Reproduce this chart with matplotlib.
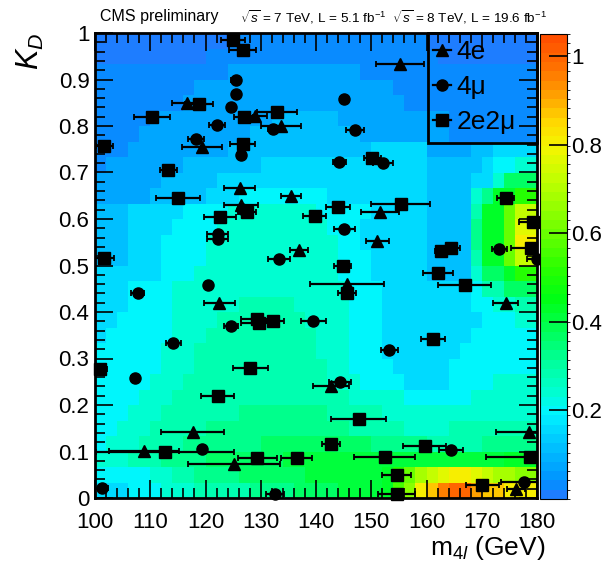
import numpy as np
import matplotlib.pyplot as plt
from matplotlib.colors import LinearSegmentedColormap, BoundaryNorm
from matplotlib.lines import Line2D
from matplotlib.patches import Rectangle

plt.rcParams['font.family'] = ['Liberation Sans', 'DejaVu Sans']
plt.rcParams['mathtext.fontset'] = 'custom'
plt.rcParams['mathtext.rm'] = 'Liberation Sans'
plt.rcParams['mathtext.it'] = 'Liberation Sans:italic'

# signal probability map, one string per K_D row (top row first), one letter per 2 GeV bin
# letter a..z -> 0.00 .. 1.00 in steps of 0.04
kd_map = [
    "aaaaaaaaaaaa" + "bbbbbbbbbbbbbbbbbb" + "aaaaaaaaaa",
    "aaaaaaaaaa" + "bbbbbbbbbbbbbbbbbbbbb" + "aaaaaaaaa",
    "bbbbbbbbbbbb" + "cccccccccccc" + "bbbbbbbbbbbbbbbb",
    "bbbbbbbbb" + "cccccccccccccccccc" + "bbbbbbbbbbbbb",
    "bbbbbbbb" + "cccccccccccccccccccc" + "bbbbbbbbbbbb",
    "bbbbb" + "ccccccccccc" + "dddddd" + "cccccccccc" + "bbbbbbbb",
    "bbbb" + "cccccccccc" + "dddddddddd" + "cccccccc" + "bbbbbbbb",
    "bbb" + "ccccccccc" + "ddddddddddddd" + "eeeee" + "cccc" + "ddeeee",
    "b" + "ccccccc" + "ddddddd" + "eeeeeeee" + "eeeeeee" + "ddddd" + "effgg",
    "cccccc" + "ddddd" + "eeeeeeeeeeeeeee" + "eeee" + "dddd" + "eegjjj",
    "ccccc" + "ddddd" + "eee" + "ffffffff" + "eeeee" + "eeee" + "dddd" + "gillnn",
    "ddd" + "eeeee" + "ffff" + "gggggggg" + "fffff" + "eeeee" + "dddd" + "hllpss",
    "ddd" + "eeee" + "ffff" + "gggggggggg" + "fff" + "eeeeee" + "dddd" + "illptt",
    "ddd" + "eee" + "ffff" + "gggggggggggg" + "ff" + "eeeeee" + "dddd" + "illpuu",
    "ddd" + "eee" + "ffff" + "gggggggggggg" + "fff" + "eeeee" + "dddd" + "hllpss",
    "eee" + "eee" + "fff" + "ggggggggggggg" + "fff" + "eeeee" + "dddd" + "gjjlnn",
    "eee" + "ffff" + "gggggggggggggggg" + "fff" + "eeee" + "eeee" + "fhhjjj",
    "eee" + "ffff" + "gggggghhhhhggggg" + "fff" + "eeee" + "eeee" + "ffgghh",
    "ee" + "fffff" + "gggg" + "hhhhhhhh" + "gggg" + "fff" + "eeeeeeee" + "efffgg",
    "e" + "ffffff" + "ggg" + "hhhhhhhhhh" + "ggg" + "fff" + "eeeeeeee" + "ffffff",
    "ffffff" + "ggg" + "hhhhhhhhhhh" + "ggg" + "fff" + "eeeeeee" + "fffffff",
    "ffffff" + "ggg" + "hhhhhhhhhhhh" + "gg" + "ffff" + "eeeee" + "ffffffff",
    "fffff" + "ggg" + "hhhhhhhhhhhhh" + "ggg" + "ffff" + "eeee" + "ffffgggg",
    "ffff" + "ggg" + "hhhhhhhhhhhhhhhh" + "ggggg" + "ffffff" + "gggggg",
    "fff" + "ggg" + "hhhhhhh" + "iiiiiiii" + "hhhhh" + "gggggg" + "gggggggg",
    "ff" + "ggg" + "hhhhh" + "iiiiiiiiiiiii" + "hhhhh" + "gggghhhhhhhh",
    "f" + "ggg" + "hhhh" + "iiiiiii" + "jjjjjjjjjj" + "iiiii" + "hhhhhiiiii",
    "ggg" + "hhh" + "iiii" + "jjjjj" + "jjkkkkkkkk" + "kkkkk" + "kkkkk" + "kklll",
    "fffff" + "gg" + "hh" + "iiii" + "jjjjjj" + "kkkkkk" + "klnprstuutsrrqq",
    "eeefff" + "gggh" + "hhhhiiiijj" + "jjkkk" + "kloqu" + "wyzzxwwuuu",
]
m4l_edges = np.arange(100, 182, 2)
kd_edges = np.linspace(0, 1, 31)

# 4e candidates: mass, K_D, mass uncertainty
m_4e = [116.7, 129.0, 133.7, 119.4, 126.2, 135.5, 126.4, 136.9, 155.2, 151.6,
        151.1, 122.5, 145.6, 174.3, 142.7, 117.7, 108.9, 125.2, 178.6, 176.2]
kd_4e = [0.850, 0.822, 0.801, 0.755, 0.666, 0.650, 0.630, 0.533, 0.933, 0.614,
         0.553, 0.420, 0.461, 0.420, 0.241, 0.142, 0.101, 0.074, 0.141, 0.019]
err_4e = [2.7, 2.2, 3.6, 3.6, 2.8, 1.8, 3.1, 1.6, 4.3, 3.5,
          2.1, 2.8, 6.7, 2.2, 3.3, 5.7, 6.3, 8.3, 6.1, 1.7]

# 4mu candidates
m_4mu = [125.5, 125.6, 124.6, 122.1, 132.2, 118.3, 126.5, 126.6, 122.2, 122.2,
         133.3, 145.0, 147.1, 144.2, 152.2, 145.1, 173.2, 180.0, 107.7, 120.5,
         124.6, 114.2, 107.2, 119.3, 101.2, 132.6, 139.5, 153.3, 144.3, 164.4, 177.6]
kd_4mu = [0.900, 0.869, 0.840, 0.803, 0.794, 0.772, 0.737, 0.622, 0.568, 0.558,
          0.513, 0.859, 0.791, 0.723, 0.720, 0.579, 0.536, 0.514, 0.441, 0.457,
          0.370, 0.333, 0.259, 0.105, 0.021, 0.009, 0.380, 0.318, 0.250, 0.104, 0.034]
err_4mu = [0.9, 0.5, 0.6, 1.4, 0.8, 1.4, 0.6, 0.8, 1.9, 1.9,
           2.0, 0.6, 1.6, 1.2, 1.8, 1.9, 1.3, 1.8, 1.1, 0.6,
           1.2, 1.3, 0.6, 0.6, 1.2, 1.6, 2.3, 1.5, 2.0, 2.2, 4.2]

# 2e2mu candidates
m_2e2mu = [125.0, 126.7, 118.8, 110.3, 126.9, 132.9, 101.7, 126.7, 113.3, 115.0,
           127.5, 122.7, 101.6, 150.2, 155.3, 144.0, 139.8, 162.7, 164.5, 174.3,
           179.2, 178.9, 144.8, 145.6, 162.1, 166.9, 161.2, 129.4, 129.7, 132.3,
           100.9, 128.1, 122.2, 112.7, 129.4, 136.5, 147.7, 142.7, 159.7, 178.7,
           152.4, 154.6, 170.1, 154.6]
kd_2e2mu = [0.986, 0.963, 0.848, 0.820, 0.819, 0.831, 0.756, 0.761, 0.705, 0.645,
            0.614, 0.604, 0.516, 0.732, 0.633, 0.625, 0.607, 0.531, 0.538, 0.645,
            0.593, 0.538, 0.499, 0.441, 0.483, 0.457, 0.343, 0.384, 0.377, 0.380,
            0.277, 0.280, 0.220, 0.099, 0.085, 0.087, 0.170, 0.116, 0.111, 0.089,
            0.089, 0.049, 0.029, 0.008]
err_2e2mu = [2.2, 2.5, 2.5, 3.3, 1.7, 3.6, 1.5, 2.3, 1.6, 4.0,
             1.7, 2.9, 1.8, 1.5, 5.3, 2.2, 2.1, 1.2, 1.5, 1.6,
             2.4, 3.6, 1.5, 1.7, 2.7, 4.8, 2.2, 2.9, 3.3, 1.9,
             1.3, 3.2, 3.0, 12.5, 3.5, 2.8, 5.0, 1.7, 3.9, 8.0,
             5.6, 2.6, 3.0, 3.3]

z = np.array([[(ord(ch) - ord('a')) * 0.04 for ch in row.ljust(40, row[-1])[:40]]
              for row in kd_map])[::-1]

stops = [(0.00, (30, 125, 255)), (0.03, (0, 145, 255)), (0.08, (0, 175, 255)),
         (0.13, (0, 205, 255)), (0.19, (0, 245, 255)), (0.24, (0, 255, 205)),
         (0.30, (0, 255, 160)), (0.37, (0, 255, 95)), (0.45, (0, 255, 20)),
         (0.52, (40, 255, 0)), (0.62, (120, 255, 0)), (0.72, (190, 255, 0)),
         (0.80, (245, 245, 0)), (0.86, (255, 215, 0)), (0.92, (255, 160, 0)),
         (0.98, (255, 115, 0)), (1.05, (255, 80, 0))]
cmap = LinearSegmentedColormap.from_list(
    'kd', [(v / 1.05, tuple(c / 255 for c in rgb)) for v, rgb in stops]).resampled(50)
levels = np.linspace(0, 1.05, 51)
norm = BoundaryNorm(levels, 50)

fig = plt.figure(figsize=(6.13, 5.63), dpi=100)
ax = fig.add_axes([95 / 613, 65 / 563, 442 / 613, 465 / 563])
cax = fig.add_axes([540 / 613, 64 / 563, 27 / 613, 465 / 563])

mesh = ax.pcolormesh(m4l_edges, kd_edges, z, cmap=cmap, norm=norm)

ebar = dict(fmt='none', ecolor='black', elinewidth=1.6, capsize=2.5, capthick=1.3)
ax.errorbar(m_4e, kd_4e, xerr=err_4e, **ebar)
ax.errorbar(m_4mu, kd_4mu, xerr=err_4mu, **ebar)
ax.errorbar(m_2e2mu, kd_2e2mu, xerr=err_2e2mu, **ebar)
ax.plot(m_4e, kd_4e, '^', color='black', ms=8.5, clip_on=False)
ax.plot(m_4mu, kd_4mu, 'o', color='black', ms=8, clip_on=False)
ax.plot(m_2e2mu, kd_2e2mu, 's', color='black', ms=8, clip_on=False)

ax.set_xlim(100, 180)
ax.set_ylim(0, 1)
ax.set_xticks(np.arange(100, 181, 10))
ax.set_xticks(np.arange(100, 181, 2), minor=True)
ax.set_yticks(np.arange(0, 1.01, 0.1))
ax.set_yticks(np.arange(0, 1.001, 0.02), minor=True)
ax.set_yticklabels(['0'] + ['%.1f' % v for v in np.arange(0.1, 0.95, 0.1)] + ['1'])
ax.tick_params(which='both', direction='in', top=True, right=True, labelsize=16, width=1.2, pad=4)
ax.tick_params(axis='x', which='both', pad=10)
ax.tick_params(which='major', length=13)
ax.tick_params(which='minor', length=7)
for s in ax.spines.values():
    s.set_linewidth(2)

ax.set_xlabel(r'm$_{4\mathit{l}}$ (GeV)', fontsize=19, ha='right', va='center')
ax.xaxis.set_label_coords((545 - 95) / 442, -(548 - 498) / 465)
ax.set_ylabel(r'$K_D$', fontsize=22, ha='right', va='center')
ax.yaxis.set_label_coords(-(95 - 30) / 442, 1.0)

cb = fig.colorbar(mesh, cax=cax, ticks=[0.2, 0.4, 0.6, 0.8, 1.0])
cb.ax.set_yticklabels(['0.2', '0.4', '0.6', '0.8', '1'])
cb.ax.tick_params(direction='in', length=13, width=1.2, labelsize=16, pad=3)
cb.outline.set_linewidth(0.8)

# legend entries without a frame, the box is drawn on its own
handles = [Line2D([], [], color='black', marker='^', ms=8.5, lw=1.6),
           Line2D([], [], color='black', marker='o', ms=8, lw=1.6),
           Line2D([], [], color='black', marker='s', ms=8, lw=1.6)]
leg = ax.legend(handles, ['4e', '4\u03bc', '2e2\u03bc'], loc='upper left',
                bbox_to_anchor=(433 / 613, 1 - 40 / 563), bbox_transform=fig.transFigure,
                borderaxespad=0, borderpad=0, fontsize=19, handlelength=0.7,
                handletextpad=0.2, labelspacing=0.42, frameon=False)
ax.add_patch(Rectangle((428 / 613, 1 - 143 / 563), 109 / 613, 110 / 563,
                       transform=fig.transFigure, fill=False, lw=2, ec='black',
                       zorder=5, clip_on=False))

fig.text(100 / 613, 1 - 17 / 563, 'CMS preliminary', fontsize=11.5, va='center')
fig.text(240 / 613, 1 - 17 / 563,
         r'$\sqrt{s}$ = 7 TeV, L = 5.1 fb$^{-1}$  $\sqrt{s}$ = 8 TeV, L = 19.6 fb$^{-1}$',
         fontsize=9.7, va='center')

fig.savefig('out.png', dpi=100)
